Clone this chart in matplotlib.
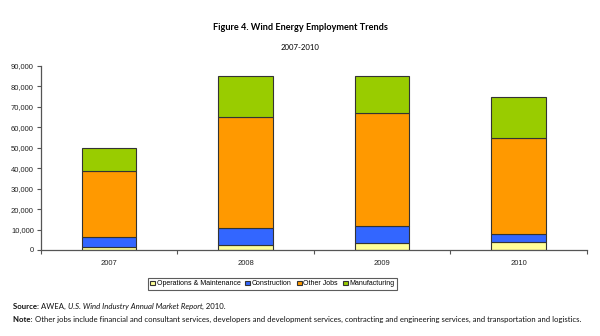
import matplotlib
matplotlib.use("Agg")
import matplotlib.pyplot as plt
from matplotlib.ticker import FuncFormatter, FixedLocator
import numpy as np

years = ["2007", "2008", "2009", "2010"]
operations = [1600, 2400, 3400, 3800]
construction = [4900, 8200, 8500, 4000]
other_jobs = [32100, 54600, 54900, 47100]
manufacturing = [11400, 19800, 18200, 20100]

series = [
    ("Operations & Maintenance", operations, "#FFFF99"),
    ("Construction", construction, "#3366FF"),
    ("Other Jobs", other_jobs, "#FF9900"),
    ("Manufacturing", manufacturing, "#99CC00"),
]

fig = plt.figure(figsize=(6, 3.36), dpi=100)
ax = fig.add_axes([0.068, 0.256, 0.91, 0.548])

x = np.arange(len(years))
bottom = np.zeros(len(years))
handles = []
for name, vals, color in series:
    b = ax.bar(x, vals, width=0.4, bottom=bottom, color=color,
               edgecolor="#333333", linewidth=0.8, label=name, zorder=2)
    handles.append(b)
    bottom += np.array(vals)

ax.set_xlim(-0.5, len(years) - 0.5)
ax.set_ylim(0, 90000)
ax.set_yticks(np.arange(0, 90001, 10000))
ax.yaxis.set_major_formatter(FuncFormatter(lambda v, p: f"{int(v):,}"))

ax.xaxis.set_major_locator(FixedLocator(np.arange(-0.5, len(years), 1.0)))
ax.xaxis.set_major_formatter(FuncFormatter(lambda v, p: ""))
ax.xaxis.set_minor_locator(FixedLocator(x))
ax.set_xticklabels(years, minor=True)
ax.tick_params(axis="x", which="minor", length=0, pad=7, labelsize=5.5)
ax.tick_params(axis="x", which="major", length=3, width=0.8, color="#555555", direction="out")
ax.tick_params(axis="y", length=3, width=0.8, color="#555555", labelsize=5.5, pad=2)

for side in ["top", "right"]:
    ax.spines[side].set_visible(False)
for side in ["left", "bottom"]:
    ax.spines[side].set_color("#555555")
    ax.spines[side].set_linewidth(0.9)

for lbl in ax.get_yticklabels() + ax.get_xticklabels(minor=True):
    lbl.set_family("Liberation Sans")
    lbl.set_color("#222222")

leg = fig.legend(handles=handles, loc="center", bbox_to_anchor=(0.454, 0.155),
                 ncol=4, frameon=True, fancybox=False, edgecolor="#333333",
                 prop={"family": "Liberation Sans", "size": 5},
                 handlelength=0.7, handleheight=0.7, handletextpad=0.25,
                 columnspacing=0.7, borderpad=0.35)
leg.get_frame().set_linewidth(0.8)

fig.text(0.5, 0.917, "Figure 4. Wind Energy Employment Trends", ha="center", va="center",
         fontsize=6.6, fontweight="bold", family="Lato")
fig.text(0.5, 0.86, "2007-2010", ha="center", va="center", fontsize=5.6, family="Lato")


def rich_line(y, pieces, x0=0.022, size=5.58):
    """Draw text pieces with different styles one after another on a line."""
    renderer = fig.canvas.get_renderer()
    xpos = x0
    for txt, weight, style in pieces:
        t = fig.text(xpos, y, txt, ha="left", va="center", fontsize=size,
                     family="Lato", fontweight=weight, fontstyle=style, color="#111111")
        bb = t.get_window_extent(renderer=renderer)
        xpos += bb.width / fig.bbox.width


rich_line(0.089, [("Source: ", "bold", "normal"),
                  ("AWEA, ", "normal", "normal"),
                  ("U.S. Wind Industry Annual Market Report", "normal", "italic"),
                  (", 2010.", "normal", "normal")])
rich_line(0.048, [("Note: ", "bold", "normal"),
                  ("Other jobs include financial and consultant services, developers and development "
                   "services, contracting and engineering services, and transportation and logistics.",
                   "normal", "normal")])

plt.savefig("out.png", dpi=100)
